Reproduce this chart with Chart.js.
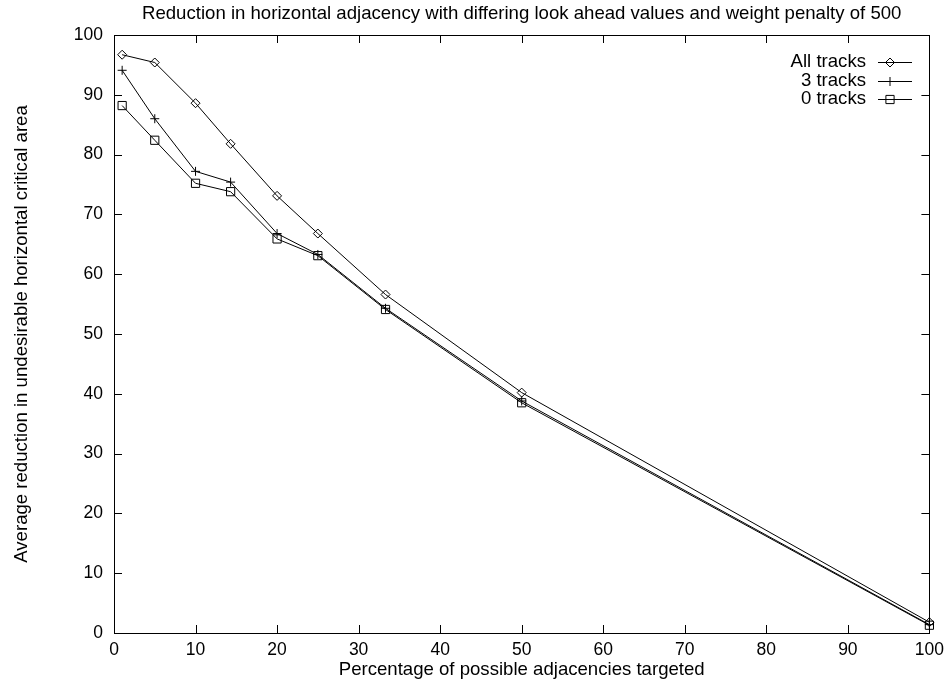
<!DOCTYPE html>
<html>
<head>
<meta charset="utf-8">
<script src="https://cdn.jsdelivr.net/npm/chart.js@4/dist/chart.umd.min.js"></script>
<style>
  html, body { margin: 0; padding: 0; background: #fff; }
  #wrap { width: 951px; height: 683px; }
</style>
</head>
<body>
<div id="wrap"><canvas id="adjChart" width="951" height="683"></canvas></div>
<script>
// Percentage of possible adjacencies targeted
const targeted = [1, 5, 10, 14.3, 20, 25, 33.3, 50, 100];

// Average reduction per look ahead setting
const allTracks = [96.7, 95.4, 88.6, 81.8, 73.1, 66.8, 56.6, 40.2, 1.8];
const threeTracks = [94.1, 86.0, 77.2, 75.4, 66.8, 63.3, 54.3, 38.8, 1.4];
const zeroTracks = [88.2, 82.4, 75.2, 73.8, 65.9, 63.1, 54.1, 38.5, 1.3];

const seriesLabels = ['All tracks', '3 tracks', '0 tracks'];
const xTicks = [0, 10, 20, 30, 40, 50, 60, 70, 80, 90, 100];
const yTicks = [0, 10, 20, 30, 40, 50, 60, 70, 80, 90, 100];

const titleText = 'Reduction in horizontal adjacency with differing look ahead values and weight penalty of 500';
const FAMILY = '"Liberation Sans", Arial, sans-serif';
const TEXT_SIZE = 18.6;
const TICK_SIZE = 17.5;

function toPoints(ys) {
    return targeted.map((x, i) => ({ x: x, y: ys[i] }));
}

function series(label, ys, style, radius) {
    return {
        label: label,
        data: toPoints(ys),
        showLine: true,
        clip: false,
        borderColor: '#000',
        borderWidth: 1,
        backgroundColor: 'rgba(0,0,0,0)',
        pointStyle: style,
        pointRadius: radius,
        pointBorderColor: '#000',
        pointBackgroundColor: 'rgba(0,0,0,0)',
        pointBorderWidth: 1,
        tension: 0,
    };
}

// frame with inward ticks on all four sides, title and gnuplot style key
const frame = {
    id: 'frame',
    afterDraw(chart) {
        const ctx = chart.ctx;
        const a = chart.chartArea;
        const xs = chart.scales.x;
        const ys = chart.scales.y;
        const tl = 8;
        ctx.save();
        ctx.strokeStyle = '#000';
        ctx.lineWidth = 1;
        ctx.strokeRect(Math.round(a.left) + 0.5, Math.round(a.top) + 0.5,
            Math.round(a.right - a.left), Math.round(a.bottom - a.top));
        ctx.beginPath();
        xTicks.forEach(v => {
            const px = Math.round(xs.getPixelForValue(v)) + 0.5;
            ctx.moveTo(px, a.bottom);
            ctx.lineTo(px, a.bottom - tl);
            ctx.moveTo(px, a.top);
            ctx.lineTo(px, a.top + tl);
        });
        yTicks.forEach(v => {
            const py = Math.round(ys.getPixelForValue(v)) + 0.5;
            ctx.moveTo(a.left, py);
            ctx.lineTo(a.left + tl, py);
            ctx.moveTo(a.right, py);
            ctx.lineTo(a.right - tl, py);
        });
        ctx.stroke();

        ctx.fillStyle = '#000';
        ctx.font = TEXT_SIZE + 'px ' + FAMILY;
        ctx.textAlign = 'center';
        ctx.textBaseline = 'middle';
        ctx.fillText(titleText, (a.left + a.right) / 2, 14);

        // key
        chart.data.datasets.forEach((ds, i) => {
            const y = 62 + i * 18.5;
            ctx.textAlign = 'right';
            ctx.fillStyle = '#000';
            ctx.fillText(ds.label, 866, y);
            ctx.beginPath();
            ctx.moveTo(878, Math.round(y) + 0.5);
            ctx.lineTo(912, Math.round(y) + 0.5);
            ctx.stroke();
            ctx.fillStyle = 'rgba(0,0,0,0)';
            Chart.helpers.drawPoint(ctx, {
                pointStyle: ds.pointStyle,
                radius: ds.pointRadius,
                rotation: 0,
                borderWidth: 1,
            }, 890, Math.round(y) + 0.5);
        });
        ctx.restore();
    }
};

document.addEventListener('DOMContentLoaded', function() {
    const ctx = document.getElementById('adjChart');

    new Chart(ctx, {
        type: 'scatter',
        data: {
            datasets: [
                series(seriesLabels[0], allTracks, 'rectRot', 4.5),
                series(seriesLabels[1], threeTracks, 'cross', 4.5),
                series(seriesLabels[2], zeroTracks, 'rect', 5.8),
            ],
        },
        options: {
            responsive: false,
            animation: false,
            layout: {
                padding: { left: 0, top: 35, right: 20, bottom: 0 },
            },
            plugins: {
                legend: { display: false },
                title: { display: false },
                tooltip: { enabled: false },
            },
            scales: {
                x: {
                    type: 'linear',
                    min: 0,
                    max: 100,
                    border: { display: false },
                    grid: { display: false, drawTicks: false },
                    ticks: {
                        stepSize: 10,
                        padding: 7,
                        color: '#000',
                        font: { family: FAMILY, size: TICK_SIZE },
                        maxRotation: 0,
                    },
                    title: {
                        display: true,
                        text: 'Percentage of possible adjacencies targeted',
                        color: '#000',
                        font: { family: FAMILY, size: TEXT_SIZE },
                        padding: { top: 0, bottom: 2 },
                    },
                    afterFit(scale) { scale.height = 50; },
                },
                y: {
                    type: 'linear',
                    min: 0,
                    max: 100,
                    border: { display: false },
                    grid: { display: false, drawTicks: false },
                    ticks: {
                        stepSize: 10,
                        padding: 11,
                        color: '#000',
                        font: { family: FAMILY, size: TICK_SIZE },
                    },
                    title: {
                        display: true,
                        text: 'Average reduction in undesirable horizontal critical area',
                        color: '#000',
                        font: { family: FAMILY, size: TEXT_SIZE },
                        padding: { top: 11, bottom: 0 },
                    },
                    afterFit(scale) { scale.width = 114; },
                },
            },
        },
        plugins: [frame],
    });
});
</script>
</body>
</html>
